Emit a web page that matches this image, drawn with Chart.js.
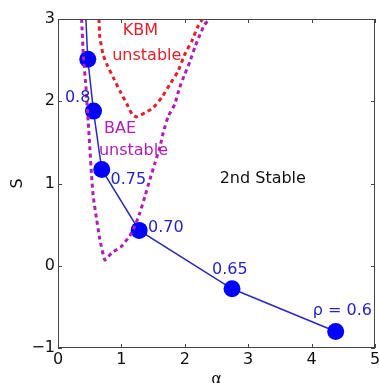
<!DOCTYPE html>
<html><head><meta charset="utf-8">
<script src="https://cdn.jsdelivr.net/npm/chart.js@4/dist/chart.umd.min.js"></script>
<style>html,body{margin:0;padding:0;background:#fff}#wrap{width:379px;height:383px;position:relative}</style>
</head><body><div id="wrap"><canvas id="c"></canvas></div>
<script>
// ---- data ----
const xTickValues = [0, 1, 2, 3, 4, 5];
const xTickLabels = ['0', '1', '2', '3', '4', '5'];
const yTickValues = [-1, 0, 1, 2, 3];
const yTickLabels = ['\u22121', '0', '1', '2', '3'];

// rho scan (blue): curve incl. the part leaving the top of the frame, and marker points
const rhoCurveAlpha = [0.44, 0.47, 0.56, 0.69, 1.28, 2.745, 4.38];
const rhoCurveS     = [3.00, 2.51, 1.88, 1.17, 0.43, -0.28, -0.80];
const rhoMarkAlpha  = [0.47, 0.56, 0.69, 1.28, 2.745, 4.38];
const rhoMarkS      = [2.51, 1.88, 1.17, 0.43, -0.28, -0.80];

// KBM stability boundary (red dotted)
const kbmAlpha = [0.646, 0.66, 0.71, 0.77, 0.87, 0.98, 1.09, 1.17, 1.24, 1.37, 1.50, 1.64, 1.76, 1.89, 2.00, 2.11, 2.20, 2.28];
const kbmS     = [3.00, 2.78, 2.57, 2.45, 2.29, 2.12, 1.96, 1.84, 1.81, 1.86, 1.92, 2.05, 2.20, 2.36, 2.57, 2.73, 2.90, 3.00];

// BAE stability boundary (magenta dotted)
const baeAlpha = [0.373, 0.40, 0.44, 0.477, 0.504, 0.53, 0.556, 0.61, 0.66, 0.74, 0.846, 1.00, 1.13, 1.21, 1.29, 1.37, 1.45, 1.53, 1.61, 1.66, 1.74, 1.84, 1.92, 2.00, 2.08, 2.16, 2.24, 2.31, 2.39];
const baeS     = [3.00, 2.55, 2.18, 1.74, 1.41, 1.09, 0.84, 0.56, 0.32, 0.07, 0.155, 0.235, 0.36, 0.48, 0.64, 0.84, 1.05, 1.25, 1.45, 1.62, 1.82, 1.96, 2.17, 2.33, 2.48, 2.66, 2.81, 2.93, 3.00];

// text annotations (anchored in data coordinates)
const noteTexts = ['KBM', 'unstable', 'BAE', 'unstable', '0.8', '0.75', '0.70', '0.65', '\u03c1 = 0.6', '2nd Stable'];
const noteAlpha = [1.30, 1.40, 0.98, 1.19, 0.31, 1.11, 1.70, 2.71, 4.485, 3.23];
const noteS     = [2.85, 2.55, 1.66, 1.40, 2.04, 1.05, 0.46, -0.05, -0.55, 1.06];
const noteKinds = ['kbm', 'kbm', 'bae', 'bae', 'rho', 'rho', 'rho', 'rho', 'rho', 'plain'];

// ---- styling ----
const FONT = 'DejaVu Sans';
const COL = { kbm: '#e3202a', bae: '#b01eb4', rho: '#2424c8', plain: '#111111', mark: '#0000ff', line: '#2a2ac0', frame: '#444444' };

const pts = (xs, ys) => xs.map((x, i) => ({ x: x, y: ys[i] }));

const framePlugin = {
  id: 'frameAndNotes',
  afterDatasetsDraw(chart) {
    const { ctx, chartArea: a, scales: { x, y } } = chart;
    ctx.save();
    // frame
    ctx.strokeStyle = COL.frame;
    ctx.lineWidth = 1;
    ctx.strokeRect(Math.round(a.left) + 0.5, Math.round(a.top) + 0.5, Math.round(a.right - a.left) - 1, Math.round(a.bottom - a.top) - 1);
    // inward ticks on all four sides
    const L = 4;
    ctx.beginPath();
    xTickValues.forEach(v => {
      const px = Math.round(x.getPixelForValue(v)) + 0.5;
      ctx.moveTo(px, a.bottom); ctx.lineTo(px, a.bottom - L);
      ctx.moveTo(px, a.top); ctx.lineTo(px, a.top + L);
    });
    yTickValues.forEach(v => {
      const py = Math.round(y.getPixelForValue(v)) + 0.5;
      ctx.moveTo(a.left, py); ctx.lineTo(a.left + L, py);
      ctx.moveTo(a.right, py); ctx.lineTo(a.right - L, py);
    });
    ctx.stroke();
    // annotations
    ctx.font = '16px "' + FONT + '"';
    ctx.textAlign = 'center';
    ctx.textBaseline = 'middle';
    noteTexts.forEach((t, i) => {
      ctx.fillStyle = COL[noteKinds[i]];
      ctx.fillText(t, x.getPixelForValue(noteAlpha[i]), y.getPixelForValue(noteS[i]));
    });
    ctx.restore();
  }
};

new Chart(document.getElementById('c'), {
  type: 'scatter',
  data: {
    datasets: [
      { label: 'BAE', data: pts(baeAlpha, baeS), showLine: true, borderColor: COL.bae, borderWidth: 3, borderDash: [4, 3.5], pointRadius: 0, tension: 0.15, order: 0 },
      { label: 'KBM', data: pts(kbmAlpha, kbmS), showLine: true, borderColor: COL.kbm, borderWidth: 3, borderDash: [4, 3.5], pointRadius: 0, tension: 0.15, order: 1 },
      { label: 'rho points', data: pts(rhoMarkAlpha, rhoMarkS), showLine: false, pointRadius: 8.5, pointBackgroundColor: COL.mark, pointBorderColor: COL.mark, pointBorderWidth: 0, order: 2 },
      { label: 'rho scan', data: pts(rhoCurveAlpha, rhoCurveS), showLine: true, borderColor: COL.line, borderWidth: 1.5, pointRadius: 0, tension: 0, order: 3 }
    ]
  },
  options: {
    responsive: true,
    maintainAspectRatio: false,
    animation: false,
    events: [],
    layout: { autoPadding: false, padding: { left: 0, right: 4, top: 19, bottom: 0 } },
    plugins: { legend: { display: false }, tooltip: { enabled: false } },
    scales: {
      x: {
        type: 'linear', min: 0, max: 5,
        afterBuildTicks(s) { s.ticks = xTickValues.map(v => ({ value: v })); },
        ticks: { padding: 2, color: '#111', font: { family: FONT, size: 16 }, maxRotation: 0, autoSkip: false,
                 callback: (v, i) => xTickLabels[i] },
        grid: { display: false, drawTicks: false },
        border: { display: false },
        title: { display: true, text: 'α', color: '#111', font: { family: FONT, size: 16 }, padding: { top: 0, bottom: -6 } },
        afterFit(s) { s.height = 35; s.paddingLeft = 0; s.paddingRight = 0; }
      },
      y: {
        type: 'linear', min: -1, max: 3,
        afterBuildTicks(s) { s.ticks = yTickValues.map(v => ({ value: v })); },
        ticks: { padding: 3, color: '#111', font: { family: FONT, size: 16 }, autoSkip: false,
                 callback: (v, i) => yTickLabels[i] },
        grid: { display: false, drawTicks: false },
        border: { display: false },
        title: { display: true, text: 'S', color: '#111', font: { family: FONT, size: 16 }, padding: { top: 8, bottom: 0 } },
        afterFit(s) { s.width = 58; s.paddingTop = 0; s.paddingBottom = 0; }
      }
    }
  },
  plugins: [framePlugin]
});
</script>
</body></html>
